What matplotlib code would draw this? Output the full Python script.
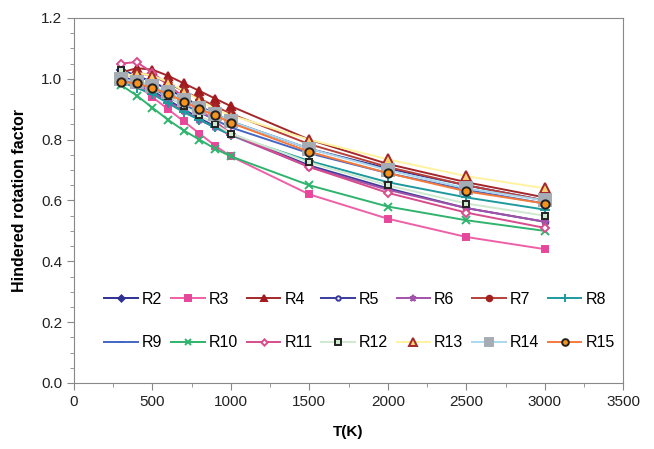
import numpy as np
import matplotlib.pyplot as plt
from matplotlib.ticker import MultipleLocator

plt.rcParams['font.family'] = ['Liberation Sans', 'DejaVu Sans']

# temperatures (K)
T = [298, 400, 500, 600, 700, 800, 900, 1000, 1500, 2000, 2500, 3000]

# hindered rotation factor per rotor
R2 = [1.03, 1.01, 0.99, 0.965, 0.94, 0.91, 0.885, 0.86, 0.77, 0.705, 0.65, 0.60]
R3 = [1.00, 0.98, 0.94, 0.90, 0.86, 0.82, 0.78, 0.745, 0.62, 0.54, 0.48, 0.44]
R4 = [1.02, 1.035, 1.03, 1.01, 0.985, 0.96, 0.935, 0.91, 0.80, 0.72, 0.66, 0.61]
R5 = [1.01, 0.99, 0.96, 0.93, 0.90, 0.87, 0.845, 0.82, 0.715, 0.64, 0.575, 0.53]
R6 = [1.00, 0.98, 0.955, 0.925, 0.895, 0.865, 0.84, 0.815, 0.71, 0.635, 0.575, 0.53]
R7 = [1.00, 1.02, 1.01, 0.985, 0.96, 0.935, 0.91, 0.885, 0.785, 0.71, 0.65, 0.60]
R8 = [0.99, 0.97, 0.95, 0.92, 0.89, 0.865, 0.84, 0.815, 0.73, 0.66, 0.61, 0.57]
R9 = [1.00, 0.99, 0.97, 0.94, 0.915, 0.89, 0.865, 0.84, 0.755, 0.69, 0.635, 0.59]
R10 = [0.98, 0.945, 0.905, 0.865, 0.83, 0.80, 0.77, 0.745, 0.65, 0.58, 0.535, 0.50]
R11 = [1.05, 1.055, 1.02, 0.98, 0.94, 0.90, 0.86, 0.82, 0.71, 0.625, 0.56, 0.51]
R12 = [1.03, 1.00, 0.975, 0.945, 0.91, 0.88, 0.85, 0.82, 0.725, 0.65, 0.59, 0.55]
R13 = [1.00, 1.02, 1.01, 0.99, 0.96, 0.93, 0.90, 0.88, 0.80, 0.735, 0.68, 0.64]
R14 = [1.00, 0.99, 0.975, 0.955, 0.93, 0.905, 0.885, 0.86, 0.77, 0.70, 0.64, 0.60]
R15 = [0.99, 0.985, 0.97, 0.95, 0.925, 0.90, 0.88, 0.855, 0.76, 0.69, 0.63, 0.59]

labels = ['R2', 'R3', 'R4', 'R5', 'R6', 'R7', 'R8', 'R9', 'R10', 'R11', 'R12', 'R13', 'R14', 'R15']
series = [R2, R3, R4, R5, R6, R7, R8, R9, R10, R11, R12, R13, R14, R15]

# (line colour, marker, marker size, face colour, edge colour)
styles = [
    ('#2e3192', 'D', 4, '#2e3192', '#2e3192'),
    ('#ee5fa7', 's', 5, '#e6479a', '#e6479a'),
    ('#a3272b', '^', 6, '#a01a1e', '#a01a1e'),
    ('#3b3b9e', 'o', 4, 'white', '#3b3b9e'),
    ('#a252a8', '*', 6, '#a252a8', '#a252a8'),
    ('#b8403a', 'o', 5, '#a3201e', '#a3201e'),
    ('#1e9a9e', '+', 7, '#1e9a9e', '#1e9a9e'),
    ('#4466c4', '_', 5, '#4466c4', '#4466c4'),
    ('#2fb46e', 'x', 6, '#2fb46e', '#2fb46e'),
    ('#d84c8c', 'D', 4, 'white', '#d84c8c'),
    ('#cfe9d0', 's', 5, '#cfe9d0', '#222222'),
    ('#fff2a0', '^', 7, '#f6d070', '#a3272b'),
    ('#a9d8ee', 's', 8, '#a6acb4', '#a6acb4'),
    ('#f47a3c', 'o', 6, '#f7941d', '#222222'),
]

fig, ax = plt.subplots(figsize=(6.54, 4.49), dpi=100)
fig.subplots_adjust(left=0.113, right=0.953, bottom=0.147, top=0.96)

handles = []
for lab, ys, (lc, mk, ms, fc, ec) in zip(labels, series, styles):
    h, = ax.plot(T, ys, color=lc, lw=1.4, marker=mk, markersize=ms,
                 markerfacecolor=fc, markeredgecolor=ec, markeredgewidth=1.4,
                 label=lab)
    handles.append(h)

ax.set_xlim(0, 3500)
ax.set_ylim(0, 1.2)
ax.xaxis.set_major_locator(MultipleLocator(500))
ax.xaxis.set_minor_locator(MultipleLocator(250))
ax.yaxis.set_major_locator(MultipleLocator(0.2))
ax.yaxis.set_minor_locator(MultipleLocator(0.05))
ax.yaxis.set_major_formatter(plt.FormatStrFormatter('%.1f'))
ax.tick_params(which='both', direction='out', colors='#888888', labelcolor='#222222', labelsize=11)
ax.tick_params(which='major', length=5)
ax.tick_params(which='minor', length=3)
for sp in ax.spines.values():
    sp.set_color('#888888')

ax.set_xlabel('T(K)', fontsize=11, fontweight='bold', labelpad=12)
ax.set_ylabel('Hindered rotation factor', fontsize=11.5, fontweight='bold', labelpad=10)

# legend fills rows first: interleave the two rows for column-major layout
order = [i + 7 * r for i in range(7) for r in range(2)]
ax.legend([handles[i] for i in order], [labels[i] for i in order],
          ncol=7, loc='lower center', bbox_to_anchor=(0.52, 0.05), frameon=False,
          fontsize=11.5, handlelength=2.1, handletextpad=0.25, columnspacing=0.55,
          labelspacing=1.8, markerscale=0.8)

plt.savefig('out.png')
